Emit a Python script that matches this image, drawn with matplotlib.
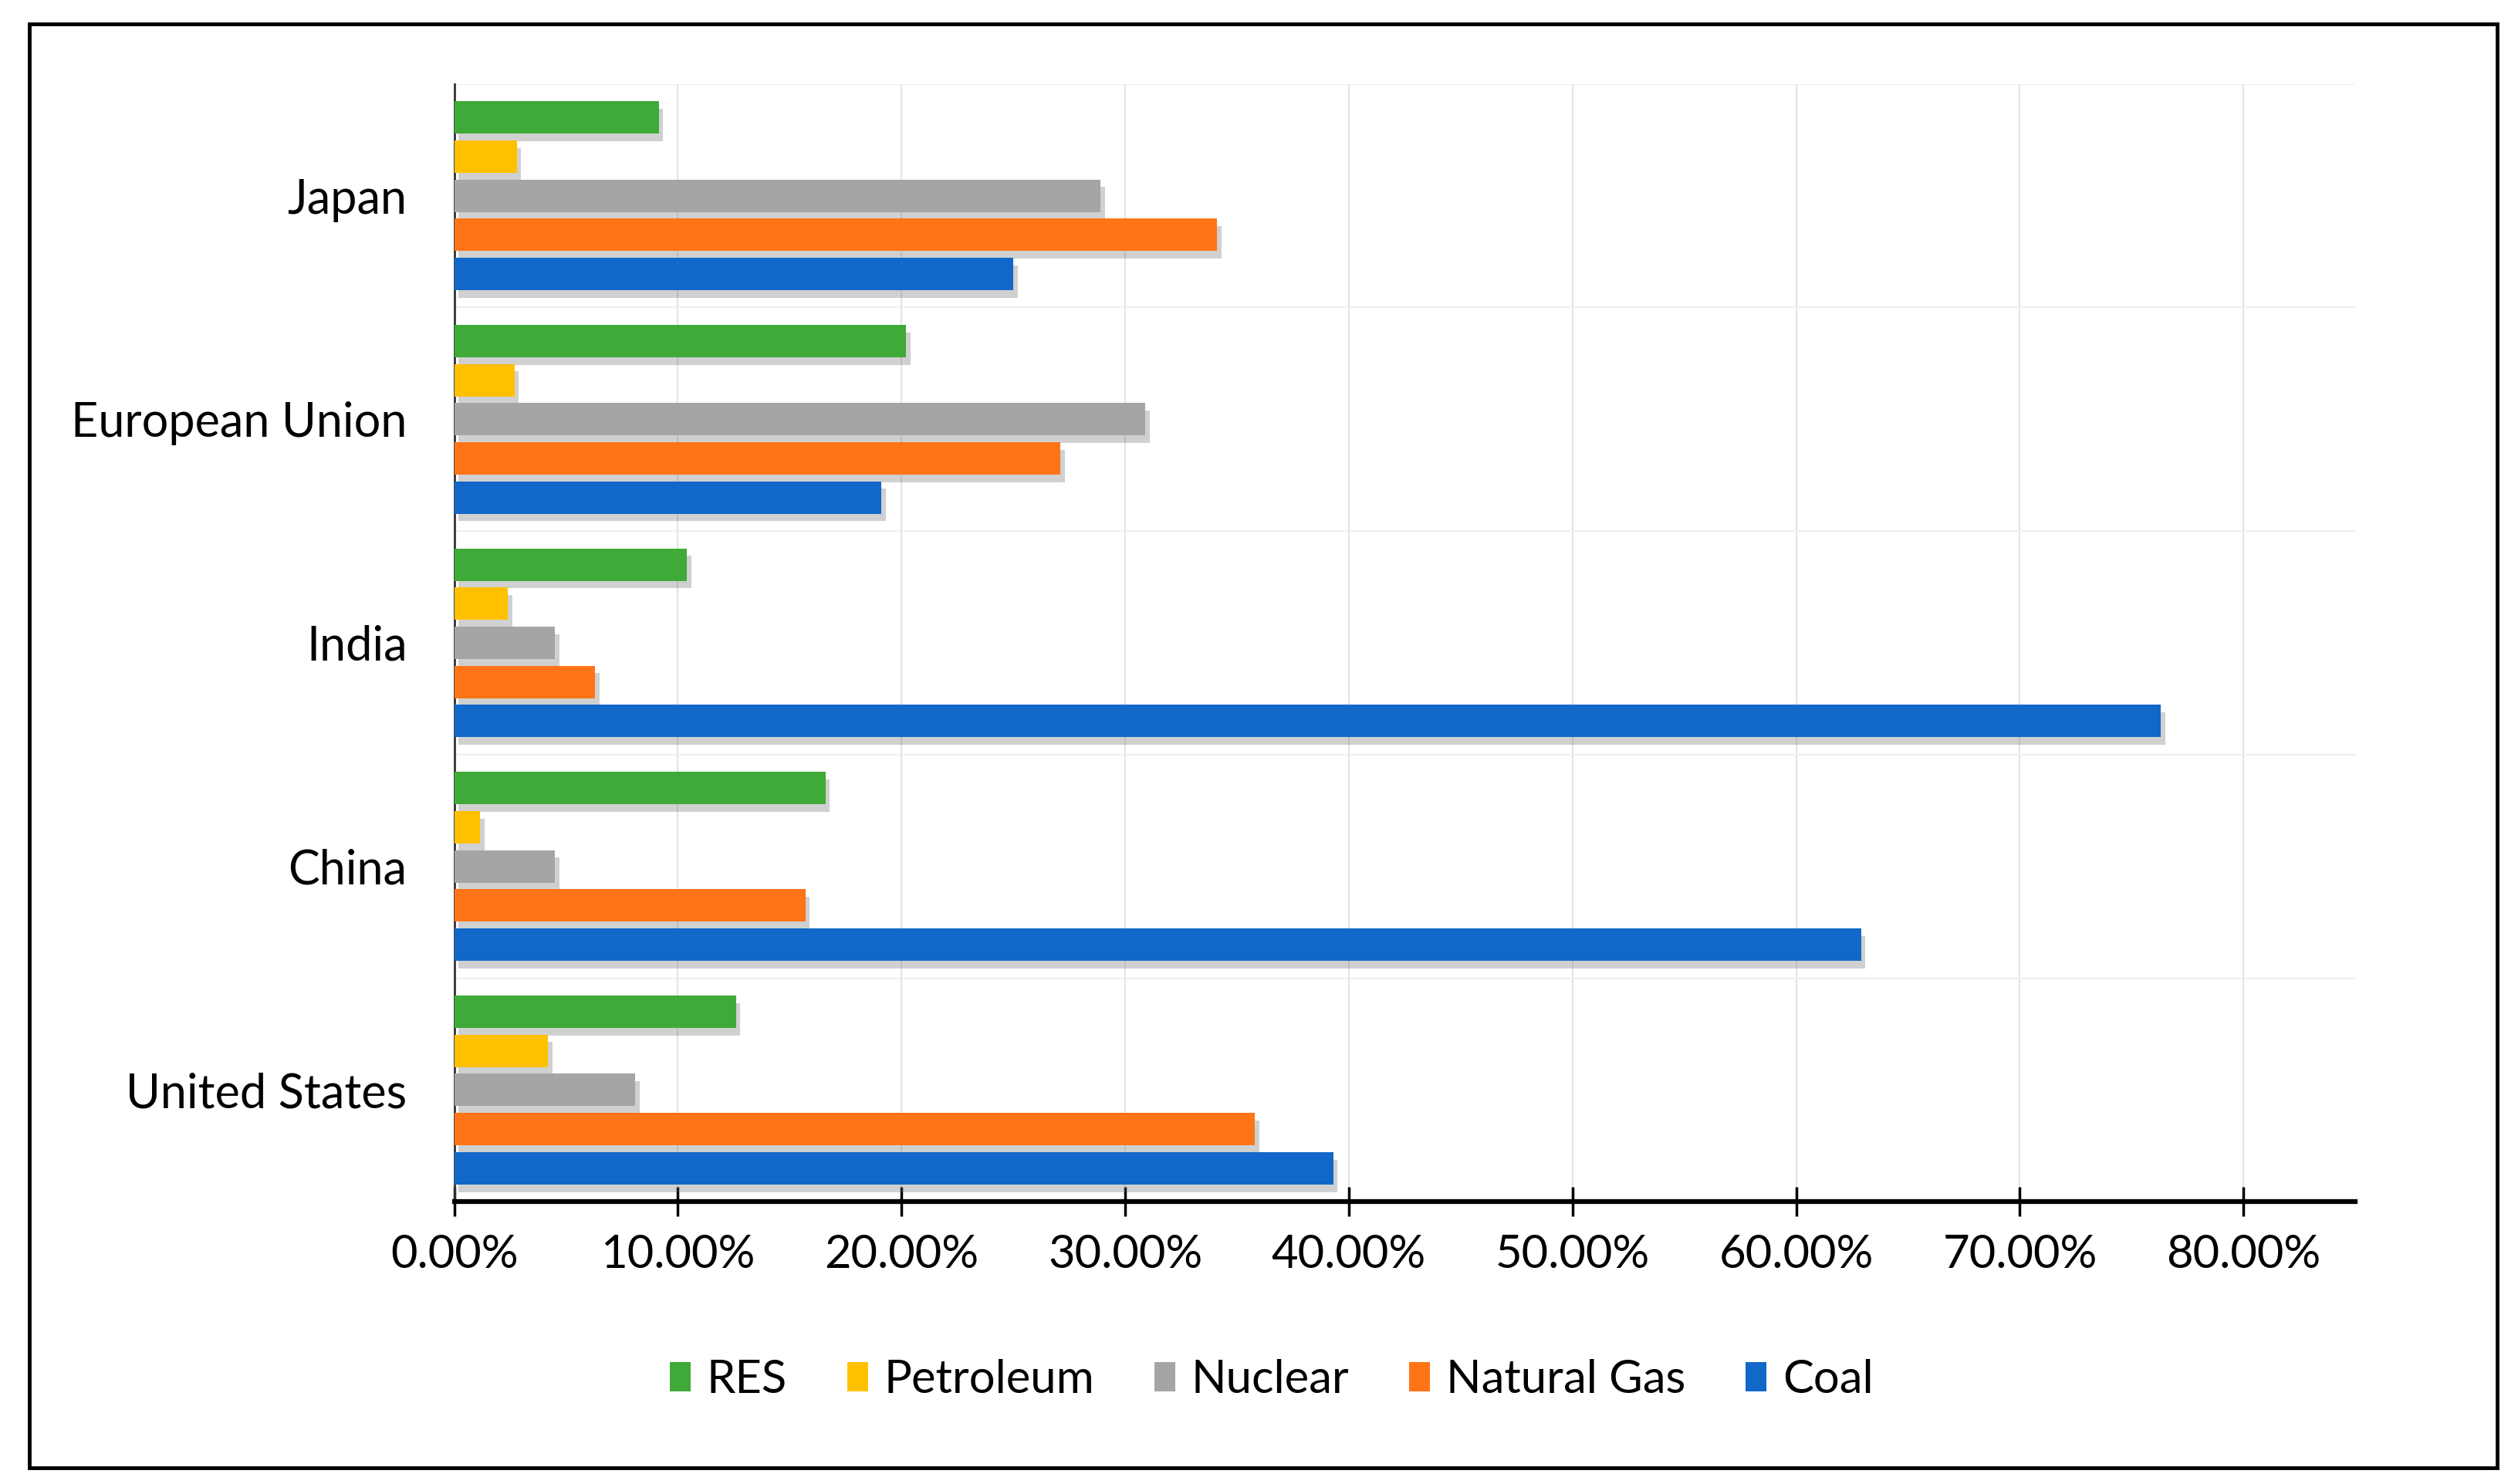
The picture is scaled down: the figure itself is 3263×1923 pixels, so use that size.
import matplotlib
matplotlib.use("Agg")
import matplotlib.pyplot as plt
import matplotlib.patheffects as pe
from matplotlib.patches import Rectangle, Patch
from matplotlib.ticker import FuncFormatter
import numpy as np

plt.rcParams['font.family'] = ['Lato', 'DejaVu Sans']

countries = ["United States", "China", "India", "European Union", "Japan"]
series = ["RES", "Petroleum", "Nuclear", "Natural Gas", "Coal"]
res = [12.6, 16.6, 10.4, 20.2, 9.15]
petroleum = [4.2, 1.15, 2.4, 2.7, 2.8]
nuclear = [8.1, 4.5, 4.5, 30.9, 28.9]
natural_gas = [35.8, 15.7, 6.3, 27.1, 34.1]
coal = [39.3, 62.9, 76.3, 19.1, 25.0]
colors = ["#3FAA38", "#FFC000", "#A5A5A5", "#FF7416", "#1268C8"]
xticks = [0, 10, 20, 30, 40, 50, 60, 70, 80]

data = [res, petroleum, nuclear, natural_gas, coal]

fig = plt.figure(figsize=(32.63, 19.23), dpi=100)
fig.patches.append(Rectangle((0.0115, 0.0109), 0.9802, 0.9728, transform=fig.transFigure,
                             fill=False, edgecolor='black', linewidth=3.5, zorder=10))
ax = fig.add_axes([0.1804, 0.1902, 0.7550, 0.7533])

y = np.arange(len(countries))
pitch = 0.175
height = 0.145
offsets = [2, 1, 0, -1, -2]
shadow = [pe.SimplePatchShadow(offset=(4, -7), shadow_rgbFace='#666666', alpha=0.3), pe.Normal()]
for vals, name, col, off in zip(data, series, colors, offsets):
    bars = ax.barh(y + off * pitch, vals, height=height, color=col, zorder=3)
    for b in bars:
        b.set_path_effects(shadow)

ax.set_xlim(0, 85)
ax.set_ylim(-0.5, len(countries) - 0.5)
ax.set_xticks(xticks)
ax.xaxis.set_major_formatter(FuncFormatter(lambda v, p: f"{v:.2f}%"))
ax.set_yticks(y)
ax.set_yticklabels(countries)
ax.set_yticks(np.arange(-0.5, len(countries), 1), minor=True)

ax.grid(axis='x', which='major', color='#E3E3E3', linewidth=1.5, zorder=0)
ax.grid(axis='y', which='minor', color='#EFEFEF', linewidth=1.5, zorder=0)
ax.set_axisbelow(True)

for s in ['top', 'right']:
    ax.spines[s].set_visible(False)
ax.spines['bottom'].set_linewidth(4.5)
ax.spines['bottom'].set_color('black')
ax.spines['left'].set_linewidth(2)
ax.spines['left'].set_color('#333333')

ax.tick_params(axis='x', which='major', direction='inout', length=28, width=2.5,
               labelsize=43, pad=16, colors='black')
ax.tick_params(axis='y', which='both', length=0, labelsize=44, pad=44)
ax.tick_params(axis='x', which='minor', length=0)

handles = [Patch(facecolor=c, edgecolor='none') for c in colors]
fig.legend(handles, series, loc='center', bbox_to_anchor=(0.505, 0.07), ncol=5,
           frameon=False, fontsize=43, handlelength=0.45, handleheight=0.6,
           handletextpad=0.35, columnspacing=1.3)

fig.savefig("out.png", dpi=100)
